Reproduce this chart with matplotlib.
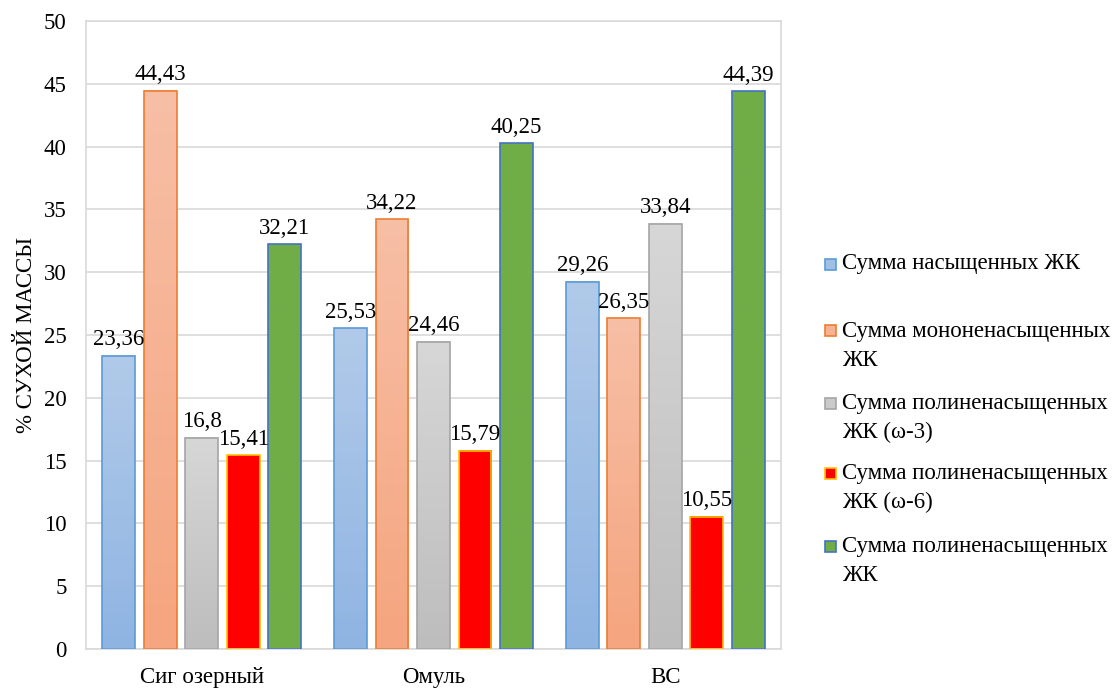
import matplotlib
matplotlib.use("Agg")
import matplotlib.pyplot as plt
import numpy as np
from matplotlib.colors import LinearSegmentedColormap
from matplotlib.patches import Rectangle

plt.rcParams["font.family"] = ["Liberation Serif", "DejaVu Serif"]

groups = ["Сиг озерный", "Омуль", "ВС"]
series_names = [
    "Сумма насыщенных ЖК",
    "Сумма мононенасыщенных\nЖК",
    "Сумма полиненасыщенных\nЖК (ω-3)",
    "Сумма полиненасыщенных\nЖК (ω-6)",
    "Сумма полиненасыщенных\nЖК",
]
saturated = [23.36, 25.53, 29.26]
mono = [44.43, 34.22, 26.35]
poly_w3 = [16.8, 24.46, 33.84]
poly_w6 = [15.41, 15.79, 10.55]
poly_total = [32.21, 40.25, 44.39]
values = [saturated, mono, poly_w3, poly_w6, poly_total]

# (top colour, bottom colour, edge colour); solid fills use the same top/bottom
styles = [
    ("#b1cae9", "#8fb4e2", "#5b9bd5"),
    ("#f7bfa6", "#f5a57f", "#ed7d31"),
    ("#d7d7d7", "#bdbdbd", "#a5a5a5"),
    ("#ff0000", "#ff0000", "#ffc000"),
    ("#70ad47", "#70ad47", "#4472c4"),
]

FS = 16.5

fig = plt.figure(figsize=(11.2, 6.94), dpi=100)
ax = fig.add_axes([0.0768, 0.0648, 0.6205, 0.9049])

x = np.arange(len(groups))
pitch = 0.179
width = 0.142

for i, (vals, (top, bottom, edge)) in enumerate(zip(values, styles)):
    pos = x + (i - 2) * pitch
    bars = ax.bar(pos, vals, width, facecolor="none", edgecolor=edge,
                  linewidth=1.2, zorder=3)
    cmap = LinearSegmentedColormap.from_list(f"g{i}", [bottom, top])
    grad = np.linspace(0, 1, 256).reshape(-1, 1)
    for b, v in zip(bars, vals):
        x0 = b.get_x()
        ax.imshow(grad, cmap=cmap, origin="lower", aspect="auto",
                  extent=[x0, x0 + width, 0, v], zorder=2, interpolation="bilinear")
        ax.annotate(f"{v:g}".replace(".", ","), (b.get_x() + width / 2, v),
                    xytext=(0, 4), textcoords="offset points",
                    ha="center", va="bottom", fontsize=FS, zorder=5)

ax.set_xlim(-0.5, 2.5)
ax.set_ylim(0, 50)
ax.set_yticks(range(0, 51, 5))
ax.set_xticks(x)
ax.set_xticklabels(groups, fontsize=FS)
ax.tick_params(axis="y", labelsize=FS, length=0, pad=14)
ax.tick_params(axis="x", length=0, pad=13)
ax.grid(axis="y", color="#d9d9d9", linewidth=1.2, zorder=0)
ax.set_axisbelow(True)
for s in ax.spines.values():
    s.set_color("#d9d9d9")
    s.set_linewidth(1.2)
ax.set_ylabel("% СУХОЙ МАССЫ", fontsize=FS)
ax.yaxis.set_label_coords(-0.07, 0.5)

# legend drawn by hand to keep Excel-like spacing
legend_y = [264, 346, 418, 488, 561]
for name, (top, bottom, edge), yp in zip(series_names, styles, legend_y):
    yf = 1 - yp / 694
    mid = top if top == bottom else "#" + "".join(
        f"{(int(top[k:k+2], 16) + int(bottom[k:k+2], 16)) // 2:02x}" for k in (1, 3, 5))
    nlines = name.count("\n")
    box_y = yf + nlines * 15 / 694
    fig.patches.append(Rectangle((825 / 1120, box_y - 5.5 / 694), 11 / 1120, 11 / 694,
                                 transform=fig.transFigure, facecolor=mid,
                                 edgecolor=edge, linewidth=1.2))
    fig.text(842 / 1120, yf, name, fontsize=FS, va="center", ha="left",
             linespacing=1.5)

fig.savefig("out.png", dpi=100)
